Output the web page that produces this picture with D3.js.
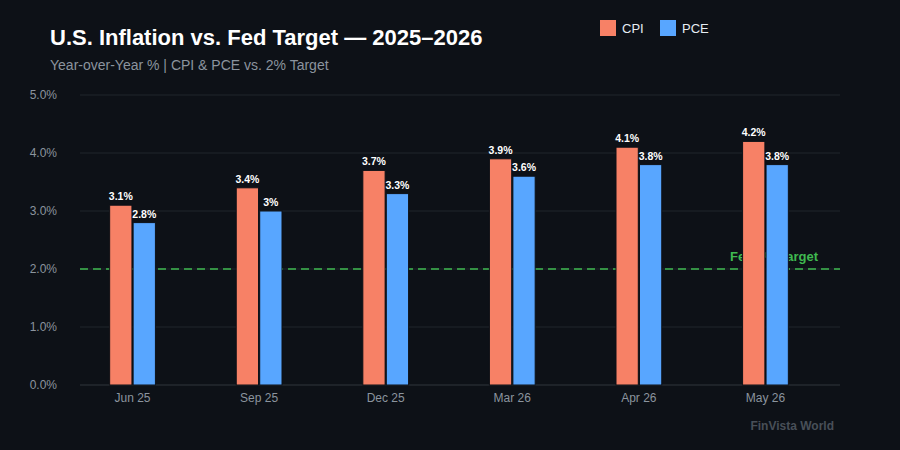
<!DOCTYPE html>
<html>
<head>
<meta charset="utf-8">
<script src="https://cdn.jsdelivr.net/npm/d3@7"></script>
<style>
  html, body { margin: 0; padding: 0; background: #0d1117; }
  svg { display: block; font-family: "Liberation Sans", Arial, sans-serif; }
</style>
</head>
<body>
<div id="chart"></div>
<script>
// data
const periods = ["Jun 25", "Sep 25", "Dec 25", "Mar 26", "Apr 26", "May 26"];
const cpi = [3.1, 3.4, 3.7, 3.9, 4.1, 4.2];
const pce = [2.8, 3.0, 3.3, 3.6, 3.8, 3.8];
const seriesNames = ["CPI", "PCE"];
const yTicks = [0, 1, 2, 3, 4, 5];
const fedTarget = 2;

const width = 900, height = 450;
const colors = { CPI: "#f78166", PCE: "#58a6ff" };

const svg = d3.select("#chart").append("svg")
  .attr("width", width).attr("height", height);

svg.append("rect").attr("width", width).attr("height", height).attr("fill", "#0d1117");

const y = d3.scaleLinear().domain([0, 5]).range([385, 95]);
const x0 = d3.scaleBand().domain(periods).range([80, 818])
  .paddingInner(0.62).paddingOuter(0.225);
const x1 = d3.scaleBand().domain(seriesNames).range([0, x0.bandwidth()]).padding(0.05);

// grid
svg.append("g").selectAll("line")
  .data(yTicks)
  .join("line")
  .attr("x1", 80).attr("x2", 840)
  .attr("y1", d => y(d)).attr("y2", d => y(d))
  .attr("stroke", d => d === 0 ? "#30363d" : "#21262d")
  .attr("stroke-width", 1);

// y axis labels
svg.append("g").selectAll("text")
  .data(yTicks)
  .join("text")
  .attr("x", 57).attr("y", d => y(d) + 4)
  .attr("text-anchor", "end")
  .attr("fill", "#8b949e")
  .style("font-size", "12px")
  .text(d => d.toFixed(1) + "%");

// fed target line + label (behind bars)
svg.append("line")
  .attr("x1", 80).attr("x2", 840)
  .attr("y1", y(fedTarget)).attr("y2", y(fedTarget))
  .attr("stroke", "#3fb950")
  .attr("stroke-width", 1.5)
  .attr("stroke-dasharray", "8,5");

svg.append("text")
  .attr("x", 818).attr("y", y(fedTarget) - 8)
  .attr("text-anchor", "end")
  .attr("fill", "#3fb950")
  .style("font-size", "13px")
  .style("font-weight", "600")
  .text("Fed 2% Target");

// bars
const rows = periods.map((p, i) => ({ period: p, CPI: cpi[i], PCE: pce[i] }));
const groups = svg.append("g").selectAll("g")
  .data(rows)
  .join("g")
  .attr("transform", d => `translate(${x0(d.period)},0)`);

const bars = groups.selectAll("g")
  .data(d => seriesNames.map(k => ({ key: k, value: d[k] })))
  .join("g");

bars.append("rect")
  .attr("x", d => x1(d.key))
  .attr("y", d => y(d.value))
  .attr("width", x1.bandwidth())
  .attr("height", d => y(0) - y(d.value))
  .attr("fill", d => colors[d.key])
  .attr("stroke", "#0d1117")
  .attr("stroke-width", 1);

bars.append("text")
  .attr("x", d => x1(d.key) + x1.bandwidth() / 2)
  .attr("y", d => y(d.value) - 5)
  .attr("text-anchor", "middle")
  .attr("fill", "#ffffff")
  .style("font-size", "10.5px")
  .style("font-weight", "bold")
  .text(d => d.value + "%");

// x labels
svg.append("g").selectAll("text")
  .data(periods)
  .join("text")
  .attr("x", d => x0(d) + x0.bandwidth() / 2)
  .attr("y", 402)
  .attr("text-anchor", "middle")
  .attr("fill", "#8b949e")
  .style("font-size", "12px")
  .text(d => d);

// title + subtitle
svg.append("text")
  .attr("x", 50).attr("y", 45)
  .attr("fill", "#ffffff")
  .style("font-size", "22px")
  .style("font-weight", "bold")
  .text("U.S. Inflation vs. Fed Target — 2025–2026");

svg.append("text")
  .attr("x", 50).attr("y", 70)
  .attr("fill", "#8b949e")
  .style("font-size", "14px")
  .text("Year-over-Year % | CPI & PCE vs. 2% Target");

// legend
const legend = svg.append("g").attr("transform", "translate(600,20)");
seriesNames.forEach((s, i) => {
  const g = legend.append("g").attr("transform", `translate(${i * 60},0)`);
  g.append("rect").attr("width", 16).attr("height", 16).attr("fill", colors[s]);
  g.append("text").attr("x", 22).attr("y", 13)
    .attr("fill", "#e6edf3")
    .style("font-size", "13px")
    .text(s);
});

// watermark
svg.append("text")
  .attr("x", 834).attr("y", 430)
  .attr("text-anchor", "end")
  .attr("fill", "#484f58")
  .style("font-size", "12px")
  .style("font-weight", "bold")
  .text("FinVista World");
</script>
</body>
</html>
